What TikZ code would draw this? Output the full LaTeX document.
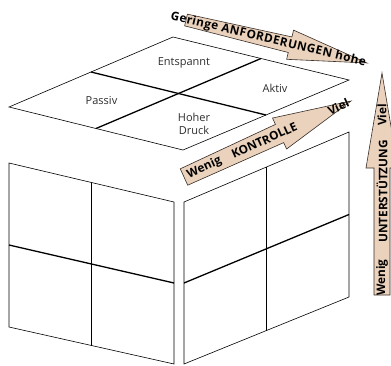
\documentclass[tikz,border=0pt]{standalone}
\usepackage{fontspec}
\setmainfont{Open Sans}
\usetikzlibrary{calc}
\definecolor{armfill}{RGB}{235,210,188}
\definecolor{armline}{RGB}{55,45,40}
\definecolor{labelgray}{RGB}{45,45,45}
\begin{document}
\begin{tikzpicture}[
  x=1pt, y=-1pt,
  face/.style={draw, line width=0.6pt, line join=miter},
  split/.style={line width=1.3pt},
  field/.style={font=\fontsize{11}{13}\selectfont, text=labelgray, align=center, inner sep=0pt},
  arm/.style={draw=armline, fill=armfill, line width=0.6pt, line join=miter},
  armtext/.style={font=\bfseries\fontsize{11.8}{13}\selectfont, inner sep=0pt}
]
\useasboundingbox (0,0) rectangle (391,365);

% top face
\coordinate (tl) at (9,107);
\coordinate (tt) at (173,37);
\coordinate (tr) at (349,80);
\coordinate (tb) at (183,150);
\draw[face] (tl) -- (tt) -- (tr) -- (tb) -- cycle;
\draw[split] ($(tl)!0.5!(tt)$) -- ($(tr)!0.5!(tb)$);
\draw[split] ($(tt)!0.5!(tr)$) -- ($(tl)!0.5!(tb)$);

% left face
\coordinate (la) at (9,163);
\coordinate (lb) at (174,202);
\coordinate (lc) at (174,364);
\coordinate (ld) at (9,327);
\draw[face] (la) -- (lb) -- (lc) -- (ld) -- cycle;
\draw[split] ($(la)!0.5!(lb)$) -- ($(ld)!0.5!(lc)$);
\draw[split] ($(la)!0.5!(ld)$) -- ($(lb)!0.5!(lc)$);

% right face
\coordinate (ra) at (184,202);
\coordinate (rb) at (349,132);
\coordinate (rc) at (349,297);
\coordinate (rd) at (184,364);
\draw[face] (ra) -- (rb) -- (rc) -- (rd) -- cycle;
\draw[split] ($(ra)!0.5!(rb)$) -- ($(rd)!0.5!(rc)$);
\draw[split] ($(ra)!0.5!(rd)$) -- ($(rb)!0.5!(rc)$);

% quadrant labels
\node[field] (relaxed) at (184,63) {Entspannt};
\node[field] (active) at (275,88) {Aktiv};
\node[field] (passive) at (101.5,101) {Passiv};
\node[field] (strain) at (194,124) {Hoher\\Druck};

% demands
\begin{scope}[shift={(186,20)}, rotate=-13.36]
  \draw[arm] (0,-6) -- (107,-8) -- (107,-15) -- (186,0) -- (107,15) -- (107,8) -- (0,6) -- cycle;
  \node[armtext, rotate=-13.36] (demands) at (84.5,0) {\addfontfeature{LetterSpace=4}Geringe ANFORDERUNGEN hohe};
\end{scope}

% control
\begin{scope}[shift={(184,177)}, rotate=24.47]
  \draw[arm] (0,-9) -- (105,-10) -- (105,-17) -- (183.5,0) -- (105,17) -- (105,10) -- (0,9) -- cycle;
  \node[armtext, rotate=24.47] (ctrllow) at (22.4,0) {Wenig};
  \node[armtext, rotate=24.47] (ctrl) at (88.2,0) {KONTROLLE};
  \node[armtext, rotate=24.47] (ctrlhigh) at (169.6,0) {Viel};
\end{scope}

% support
\begin{scope}[shift={(382,295)}, rotate=90]
  \draw[arm] (0,-8) -- (127,-8) -- (127,-16) -- (222,0) -- (127,16) -- (127,8) -- (0,8) -- cycle;
  \node[armtext, rotate=90] (suplow) at (17.5,0) {Wenig};
  \node[armtext, rotate=90] (sup) at (103.5,0) {UNTERSTÜTZUNG};
  \node[armtext, rotate=90] (suphigh) at (180,0) {Viel};
\end{scope}
\end{tikzpicture}
\end{document}
